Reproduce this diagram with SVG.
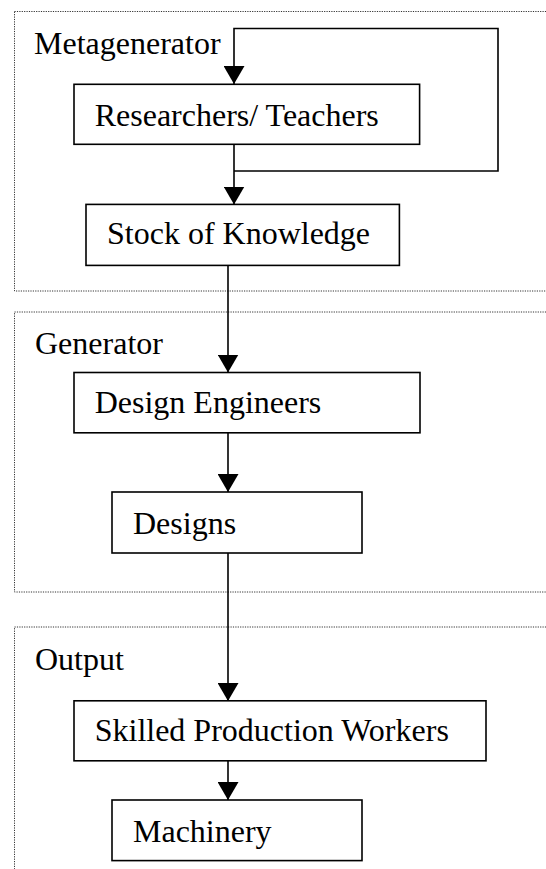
<svg xmlns="http://www.w3.org/2000/svg" width="546" height="869" viewBox="0 0 546 869">
<defs>
<marker id="ah" markerWidth="18" markerHeight="21" refX="18" refY="10.5" orient="auto" markerUnits="userSpaceOnUse" viewBox="0 0 18 21">
<path d="M0,0 L18,10.5 L0,21 Z" fill="#000"/>
</marker>
</defs>
<style>
.grp{fill:none;stroke:#333;stroke-width:1;stroke-dasharray:1.2,1.2}
.box{fill:#fff;stroke:#000;stroke-width:1.6}
.lbl{font-size:32px;fill:#000}
.c{fill:none;stroke:#000;stroke-width:1.6}
</style>
<rect width="546" height="869" fill="#fff"/>
<g font-family="'Liberation Serif', Tinos, 'Times New Roman', serif">
<g id="metagenerator">
<rect class="grp" x="14.5" y="11.5" width="560" height="279.5"/>
<text class="lbl" x="34" y="54">Metagenerator</text>
</g>
<g id="generator">
<rect class="grp" x="14.5" y="312" width="560" height="280"/>
<text class="lbl" x="35" y="353.5">Generator</text>
</g>
<g id="output">
<rect class="grp" x="14.5" y="627" width="560" height="280"/>
<text class="lbl" x="35" y="670">Output</text>
</g>
<g id="connectors">
<path class="c" d="M234,171 L498,171 L498,28.5 L234,28.5 L234,84" marker-end="url(#ah)"/>
<path class="c" d="M234,144 L234,204.5" marker-end="url(#ah)"/>
<path class="c" d="M228,265 L228,372.5" marker-end="url(#ah)"/>
<path class="c" d="M228,433 L228,492" marker-end="url(#ah)"/>
<path class="c" d="M228,553 L228,701" marker-end="url(#ah)"/>
<path class="c" d="M228,761 L228,800" marker-end="url(#ah)"/>
</g>
<g id="researchers">
<rect class="box" x="74" y="84.3" width="345.6" height="60"/>
<text class="lbl" x="94.7" y="126">Researchers/ Teachers</text>
</g>
<g id="stock">
<rect class="box" x="86" y="204.4" width="313.4" height="61"/>
<text class="lbl" x="107" y="243.7">Stock of Knowledge</text>
</g>
<g id="design-engineers">
<rect class="box" x="74" y="372.5" width="346" height="60.3"/>
<text class="lbl" x="94.7" y="412.6">Design Engineers</text>
</g>
<g id="designs">
<rect class="box" x="112" y="492" width="250" height="61"/>
<text class="lbl" x="133" y="533.7">Designs</text>
</g>
<g id="skilled-workers">
<rect class="box" x="74" y="700.8" width="412" height="60"/>
<text class="lbl" x="94.7" y="741">Skilled Production Workers</text>
</g>
<g id="machinery">
<rect class="box" x="112" y="800" width="250" height="60.6"/>
<text class="lbl" x="133" y="841.8">Machinery</text>
</g>
</g>
</svg>
